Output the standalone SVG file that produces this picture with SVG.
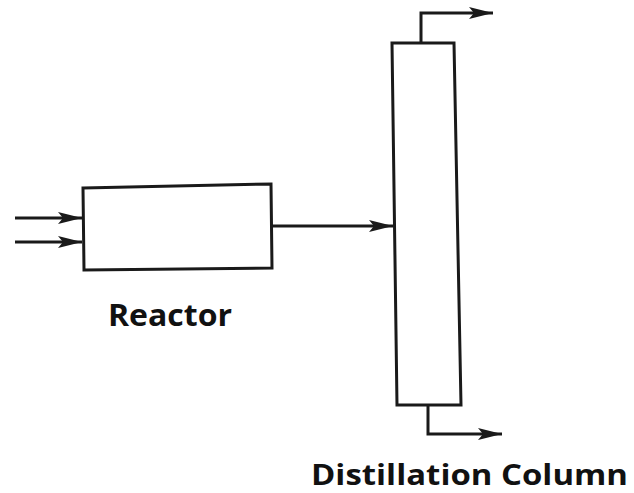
<svg xmlns="http://www.w3.org/2000/svg" width="634" height="493" viewBox="0 0 634 493">
<style>
.ln{fill:none;stroke:#1a1a1a;stroke-width:3}
.box{fill:#fff;stroke:#1a1a1a;stroke-width:3}
.lbl{font-family:"Open Sans","Liberation Sans",sans-serif;font-weight:bold;fill:#111}
</style>
<defs>
<marker id="ah" viewBox="0 0 24 12" refX="24" refY="6" markerWidth="24" markerHeight="12" markerUnits="userSpaceOnUse" orient="auto">
<path d="M0,0 L24,6 L0,12 L5,6 Z" fill="#1a1a1a"/>
</marker>
</defs>
<rect width="634" height="493" fill="#fff"/>
<g id="connectors">
<line class="ln" x1="15" y1="218" x2="82" y2="218" marker-end="url(#ah)"/>
<line class="ln" x1="15" y1="242" x2="82" y2="242" marker-end="url(#ah)"/>
<line class="ln" x1="272" y1="226" x2="393" y2="226" marker-end="url(#ah)"/>
<polyline class="ln" points="421,43 421,13 493,13" marker-end="url(#ah)"/>
<polyline class="ln" points="428,405 428,434 502,434" marker-end="url(#ah)"/>
</g>
<g id="reactor">
<path class="box" d="M83,188 L271,184 L272,268 L84,270 Z"/>
<text class="lbl" x="108" y="326" font-size="30" textLength="124" lengthAdjust="spacingAndGlyphs">Reactor</text>
</g>
<g id="column">
<path class="box" d="M392,43 L454,43 L461,405 L397,405 Z"/>
<text class="lbl" x="311" y="485" font-size="29" textLength="317" lengthAdjust="spacingAndGlyphs">Distillation Column</text>
</g>
</svg>
